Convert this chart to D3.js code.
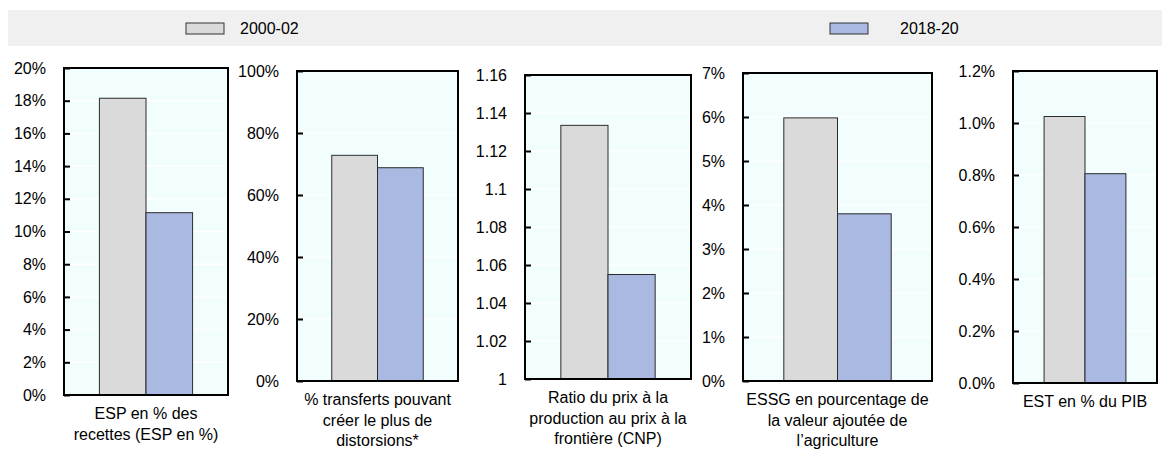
<!DOCTYPE html>
<html>
<head>
<meta charset="utf-8">
<script src="https://cdn.jsdelivr.net/npm/d3@7"></script>
<style>
  body { margin: 0; background: #fff; }
  svg { display: block; font-family: "Liberation Sans", Arial, sans-serif; }
</style>
</head>
<body>
<div id="chart"></div>
<script>
// series
const seriesNames = ['2000-02', '2018-20'];
const seriesColors = ['#dadada', '#a9b9e2'];

// one entry per panel
const panelLabels = [
  ['ESP en % des', 'recettes (ESP en %)'],
  ['% transferts pouvant', 'créer le plus de', 'distorsions*'],
  ['Ratio du prix à la', 'production au prix à la', 'frontière (CNP)'],
  ['ESSG en pourcentage de', 'la valeur ajoutée de', 'l\u2019agriculture'],
  ['EST en % du PIB']
];
const values2000 = [18.15, 72.8, 1.1335, 5.98, 1.025];
const values2018 = [11.15, 68.8, 1.055, 3.8, 0.805];
const yDomains = [[0, 20], [0, 100], [1, 1.16], [0, 7], [0, 1.2]];
const yTicks = [
  [0, 2, 4, 6, 8, 10, 12, 14, 16, 18, 20],
  [0, 20, 40, 60, 80, 100],
  [1, 1.02, 1.04, 1.06, 1.08, 1.1, 1.12, 1.14, 1.16],
  [0, 1, 2, 3, 4, 5, 6, 7],
  [0, 0.2, 0.4, 0.6, 0.8, 1.0, 1.2]
];
const tickFormats = [
  d => d + '%',
  d => d + '%',
  d => String(+d.toFixed(2)),
  d => d + '%',
  d => d.toFixed(1) + '%'
];

// layout of each plot box (pixels)
const boxes = [
  {x0: 64, x1: 228, y0: 68, y1: 395},
  {x0: 297, x1: 458, y0: 71, y1: 381},
  {x0: 525, x1: 691, y0: 75, y1: 379},
  {x0: 743, x1: 932, y0: 73, y1: 381},
  {x0: 1013, x1: 1157, y0: 71, y1: 383}
];

const W = 1162, H = 450;
const svg = d3.select('#chart').append('svg')
  .attr('width', W).attr('height', H);

// legend band
svg.append('rect')
  .attr('x', 8).attr('y', 10).attr('width', W - 8).attr('height', 36)
  .attr('fill', '#f0f0f0');

const legendPos = [{sx: 186, tx: 240}, {sx: 830, tx: 900}];
seriesNames.forEach((name, i) => {
  svg.append('rect')
    .attr('x', legendPos[i].sx).attr('y', 23)
    .attr('width', 38).attr('height', 11)
    .attr('fill', seriesColors[i])
    .attr('stroke', '#333').attr('stroke-width', 1);
  svg.append('text')
    .attr('x', legendPos[i].tx).attr('y', 34)
    .attr('font-size', 16).attr('fill', '#000')
    .text(name);
});

panelLabels.forEach((lbl, p) => {
  const b = boxes[p];
  const g = svg.append('g');

  const y = d3.scaleLinear().domain(yDomains[p]).range([b.y1, b.y0]);
  const x = d3.scaleBand()
    .domain([''])
    .range([b.x0, b.x1])
    .paddingInner(0).paddingOuter(0.38);
  const xs = d3.scaleBand()
    .domain(seriesNames)
    .range([0, x.bandwidth()]);

  // plot background
  g.append('rect')
    .attr('x', b.x0).attr('y', b.y0)
    .attr('width', b.x1 - b.x0).attr('height', b.y1 - b.y0)
    .attr('fill', '#f2fefe');

  // gridlines
  g.selectAll('.grid')
    .data(yTicks[p].slice(1, -1))
    .join('line')
    .attr('x1', b.x0).attr('x2', b.x1)
    .attr('y1', d => y(d)).attr('y2', d => y(d))
    .attr('stroke', '#fff').attr('stroke-width', 1.5);

  // bars
  const vals = [values2000[p], values2018[p]];
  g.selectAll('.bar')
    .data(seriesNames.map((s, i) => ({s, v: vals[i], i})))
    .join('rect')
    .attr('x', d => x('') + xs(d.s))
    .attr('width', xs.bandwidth())
    .attr('y', d => y(d.v))
    .attr('height', d => y(yDomains[p][0]) - y(d.v))
    .attr('fill', d => seriesColors[d.i])
    .attr('stroke', '#2b2b2b').attr('stroke-width', 1);

  // frame
  g.append('rect')
    .attr('x', b.x0).attr('y', b.y0)
    .attr('width', b.x1 - b.x0).attr('height', b.y1 - b.y0)
    .attr('fill', 'none')
    .attr('stroke', '#000').attr('stroke-width', 2);

  // y axis (ticks pointing inward)
  const axis = d3.axisLeft(y)
    .tickValues(yTicks[p])
    .tickFormat(tickFormats[p])
    .tickSizeInner(-6).tickSizeOuter(0)
    .tickPadding(18);
  const ax = g.append('g')
    .attr('transform', `translate(${b.x0},0)`)
    .call(axis);
  ax.select('.domain').remove();
  ax.selectAll('.tick line').attr('stroke', '#000').attr('stroke-width', 2);
  ax.selectAll('.tick text')
    .attr('font-size', 16)
    .attr('font-family', '"Liberation Sans", Arial, sans-serif')
    .attr('fill', '#000');

  // category label
  const cx = (b.x0 + b.x1) / 2;
  const t = g.append('text')
    .attr('text-anchor', 'middle')
    .attr('font-size', 16).attr('fill', '#000');
  lbl.forEach((line, k) => {
    t.append('tspan')
      .attr('x', cx)
      .attr('y', b.y1 + 24 + k * 20.5)
      .text(line);
  });
});
</script>
</body>
</html>
